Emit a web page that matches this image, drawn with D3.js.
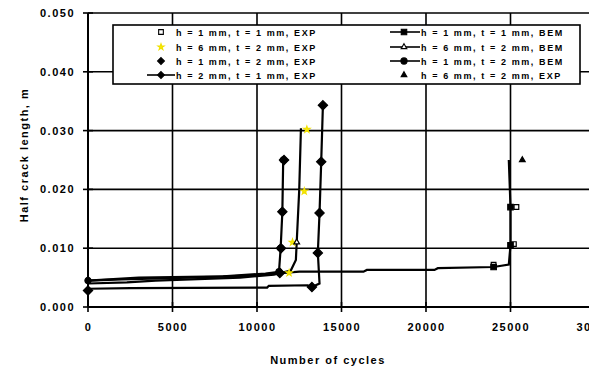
<!DOCTYPE html>
<html>
<head>
<meta charset="utf-8">
<script src="https://cdn.jsdelivr.net/npm/d3@7"></script>
<style>
  html, body { margin: 0; padding: 0; background: #fff; }
  svg { display: block; }
  text { font-family: "Liberation Sans", Arial, sans-serif; font-weight: bold; fill: #000; }
</style>
</head>
<body>
<script>
// Axis ticks
const xTicks = [0, 5000, 10000, 15000, 20000, 25000, 30000];
const yTicks = [0.000, 0.010, 0.020, 0.030, 0.040, 0.050];

// Series names (legend, left column then right column)
const names = [
  "h = 1 mm, t = 1 mm, EXP",
  "h = 6 mm, t = 2 mm, EXP",
  "h = 1 mm, t = 2 mm, EXP",
  "h = 2 mm, t = 1 mm, EXP",
  "h = 1 mm, t = 1 mm, BEM",
  "h = 6 mm, t = 2 mm, BEM",
  "h = 1 mm, t = 2 mm, BEM",
  "h = 6 mm, t = 2 mm, EXP"
];

// Cycles / half crack length (m) for each series
const s1x = [24000, 25200, 25350];
const s1y = [0.0072, 0.0107, 0.0170];

const s2x = [11900, 12100, 12800, 12950];
const s2y = [0.0058, 0.0110, 0.0197, 0.0302];

const s3x = [0, 11350, 11420, 11500, 11600];
const s3y = [0.0028, 0.0058, 0.0100, 0.0162, 0.0250];

const s4x = [0, 2500, 10600, 10700, 13000, 13250, 13700, 13600, 13700, 13800, 13900];
const s4y = [0.0031, 0.0032, 0.0033, 0.0036, 0.0037, 0.0034, 0.0040, 0.0092, 0.0160, 0.0247, 0.0343];

const s5x = [0, 2000, 6000, 10000, 12500, 16300, 16500, 20500, 20700, 24000, 24900, 25000, 25000, 24900];
const s5y = [0.0045, 0.0047, 0.0050, 0.0054, 0.0060, 0.0060, 0.0063, 0.0063, 0.0066, 0.0068, 0.0072, 0.0105, 0.0170, 0.0250];

const s6x = [0, 2300, 4000, 9000, 11000, 12000, 12300, 12350, 12500, 12600];
const s6y = [0.0040, 0.0042, 0.0045, 0.0050, 0.0055, 0.0062, 0.0080, 0.0110, 0.0200, 0.0304];

const s7x = [0, 3000, 8000, 10500, 11300, 11400, 11500, 11550];
const s7y = [0.0045, 0.0050, 0.0052, 0.0057, 0.0060, 0.0100, 0.0162, 0.0250];

const s8x = [25700];
const s8y = [0.0250];

const W = 589, H = 370;

const svg = d3.select("body").append("svg").attr("width", W).attr("height", H);

const x = d3.scaleLinear().domain([0, 30000]).range([88, 595]);
const y = d3.scaleLinear().domain([0, 0.05]).range([307, 13]);

// Grid
svg.append("g").selectAll("line").data(xTicks.slice(1)).join("line")
  .attr("x1", d => x(d)).attr("x2", d => x(d))
  .attr("y1", y(0.05)).attr("y2", y(0))
  .attr("stroke", "#000").attr("stroke-width", 1.6);
svg.append("g").selectAll("line").data(yTicks.slice(1)).join("line")
  .attr("x1", x(0)).attr("x2", W)
  .attr("y1", d => y(d)).attr("y2", d => y(d))
  .attr("stroke", "#000").attr("stroke-width", 1.6);

// Axes
const xAxis = d3.axisBottom(x).tickValues(xTicks).tickFormat(d3.format("d")).tickSize(0).tickPadding(16);
const gx = svg.append("g").attr("transform", `translate(0,${y(0)})`).call(xAxis);
gx.select(".domain").remove();
gx.selectAll("text").attr("font-size", 11).attr("letter-spacing", "1.5px").style("font-family", "Liberation Sans, Arial, sans-serif").style("font-weight", "bold");

const yAxis = d3.axisLeft(y).tickValues(yTicks).tickFormat(d3.format(".3f")).tickSize(0).tickPadding(13);
const gy = svg.append("g").attr("transform", `translate(${x(0)},0)`).call(yAxis);
gy.select(".domain").remove();
gy.selectAll("text").attr("font-size", 11).attr("letter-spacing", "1.5px").style("font-family", "Liberation Sans, Arial, sans-serif").style("font-weight", "bold");

// Axis lines and crossing ticks
svg.append("line").attr("x1", x(0)).attr("x2", W).attr("y1", y(0)).attr("y2", y(0)).attr("stroke", "#000").attr("stroke-width", 2);
svg.append("line").attr("x1", x(0)).attr("x2", x(0)).attr("y1", y(0.05)).attr("y2", y(0)).attr("stroke", "#000").attr("stroke-width", 2);
svg.append("g").selectAll("line").data(xTicks).join("line")
  .attr("x1", d => x(d)).attr("x2", d => x(d)).attr("y1", y(0) - 5).attr("y2", y(0) + 5)
  .attr("stroke", "#000").attr("stroke-width", 1.6);
svg.append("g").selectAll("line").data(yTicks).join("line")
  .attr("x1", x(0) - 5).attr("x2", x(0) + 5).attr("y1", d => y(d)).attr("y2", d => y(d))
  .attr("stroke", "#000").attr("stroke-width", 1.6);

// Axis titles
svg.append("text").attr("x", 328).attr("y", 364).attr("text-anchor", "middle")
  .attr("font-size", 11).attr("letter-spacing", "1.5px").text("Number of cycles");
svg.append("text").attr("transform", "translate(28,155) rotate(-90)").attr("text-anchor", "middle")
  .attr("font-size", 11).attr("letter-spacing", "1.5px").text("Half crack length, m");

// Series drawing
const zip = (xs, ys) => xs.map((v, i) => [v, ys[i]]);
const line = d3.line().x(d => x(d[0])).y(d => y(d[1]));
const plot = svg.append("g");

const series = [
  { pts: zip(s1x, s1y), line: false, sym: d3.symbolSquare, size: 22, fill: "#fff", stroke: "#000" },
  { pts: zip(s2x, s2y), line: false, sym: d3.symbolStar, size: 12, fill: "#ffee00", stroke: "#f0e000" },
  { pts: zip(s3x, s3y), line: false, sym: d3.symbolDiamond2, size: 55, fill: "#000", stroke: "#000" },
  { pts: zip(s4x, s4y), line: true, sym: d3.symbolDiamond2, size: 55, fill: "#000", stroke: "#000", mark: [5, 7, 8, 9, 10] },
  { pts: zip(s5x, s5y), line: true, sym: d3.symbolSquare, size: 30, fill: "#000", stroke: "#000", mark: [9, 11, 12] },
  { pts: zip(s6x, s6y), line: true, sym: d3.symbolTriangle, size: 14, fill: "#fff", stroke: "#000", mark: [7] },
  { pts: zip(s7x, s7y), line: true, sym: d3.symbolCircle, size: 30, fill: "#000", stroke: "#000", mark: [0, 4, 5, 6, 7] },
  { pts: zip(s8x, s8y), line: false, sym: d3.symbolTriangle, size: 14, fill: "#000", stroke: "#000" }
];

// lines first, then markers on top
series.forEach(s => {
  if (s.line) {
    plot.append("path").datum(s.pts).attr("d", line)
      .attr("fill", "none").attr("stroke", "#000").attr("stroke-width", 2.2);
  }
});
series.forEach(s => {
  const pts = s.mark ? s.mark.map(i => s.pts[i]) : s.pts;
  plot.append("g").selectAll("path").data(pts).join("path")
    .attr("transform", d => `translate(${x(d[0])},${y(d[1])})`)
    .attr("d", d3.symbol().type(s.sym).size(s.size))
    .attr("fill", s.fill).attr("stroke", s.stroke).attr("stroke-width", 1.2);
});

// Legend
const lg = svg.append("g");
lg.append("rect").attr("x", 113).attr("y", 25).attr("width", 467).attr("height", 59)
  .attr("fill", "#fff").attr("stroke", "#000").attr("stroke-width", 1.6);
const rowsY = [32, 47, 61, 75];
const cols = [
  { mx: 161, lx0: 147, lx1: 175, tx: 176 },
  { mx: 404, lx0: 390, lx1: 420, tx: 421 }
];
series.forEach((s, i) => {
  const c = cols[Math.floor(i / 4)];
  const ry = rowsY[i % 4];
  if (s.line) {
    lg.append("line").attr("x1", c.lx0).attr("x2", c.lx1).attr("y1", ry).attr("y2", ry)
      .attr("stroke", "#000").attr("stroke-width", 1.6);
  }
  lg.append("path").attr("transform", `translate(${c.mx},${ry})`)
    .attr("d", d3.symbol().type(s.sym).size(Math.min(s.size, 30)))
    .attr("fill", s.fill).attr("stroke", s.stroke).attr("stroke-width", 1.1);
  lg.append("text").attr("x", c.tx).attr("y", ry + 3.5)
    .attr("font-size", 9).attr("letter-spacing", "1.6px").text(names[i]);
});
</script>
</body>
</html>
